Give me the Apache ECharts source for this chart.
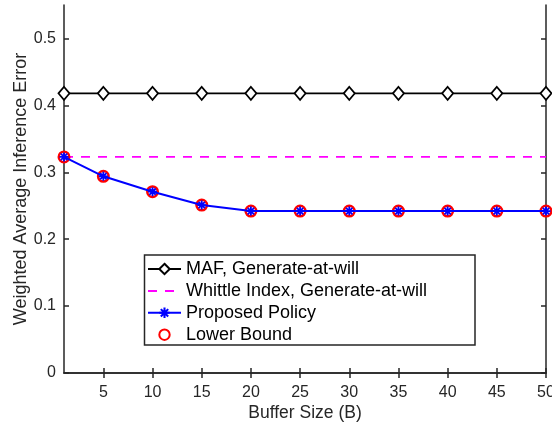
<!DOCTYPE html>
<html><head><meta charset="utf-8">
<script src="https://cdn.jsdelivr.net/npm/echarts@6/dist/echarts.min.js"></script>
<style>html,body{margin:0;padding:0;background:#fff}#c{width:552px;height:427px}</style>
</head><body><div id="c"></div>
<script>
const bufferSizes = [1, 5, 10, 15, 20, 25, 30, 35, 40, 45, 50];
const mafValues = [0.418, 0.418, 0.418, 0.418, 0.418, 0.418, 0.418, 0.418, 0.418, 0.418, 0.418];
const whittleValues = [0.323, 0.323, 0.323, 0.323, 0.323, 0.323, 0.323, 0.323, 0.323, 0.323, 0.323];
const proposedValues = [0.323, 0.294, 0.271, 0.251, 0.242, 0.242, 0.242, 0.242, 0.242, 0.242, 0.242];
const lowerBoundValues = [0.323, 0.294, 0.271, 0.251, 0.242, 0.242, 0.242, 0.242, 0.242, 0.242, 0.242];
const xTicks = [5, 10, 15, 20, 25, 30, 35, 40, 45, 50];
const yTicks = [0, 0.1, 0.2, 0.3, 0.4, 0.5];
const seriesNames = ['MAF, Generate-at-will', 'Whittle Index, Generate-at-will', 'Proposed Policy', 'Lower Bound'];

const pair = (xs, ys) => xs.map((x, i) => [x, ys[i]]);
const FONT = 'Liberation Sans';
const TXT = '#262626';
const asterisk = 'path://M-1,-5L1,-5L1,5L-1,5Z M-5,-1L5,-1L5,1L-5,1Z M-4.24,-2.83L-2.83,-4.24L4.24,2.83L2.83,4.24Z M2.83,-4.24L4.24,-2.83L-2.83,4.24L-4.24,2.83Z';

const axisCommon = {
  axisLine: {show: true, lineStyle: {color: TXT, width: 1.5}},
  axisTick: {show: true, inside: true, length: 5, lineStyle: {color: TXT, width: 1.5}},
  splitLine: {show: false}
};

const chart = echarts.init(document.getElementById('c'), null, {renderer: 'canvas'});
chart.setOption({
  animation: false,
  backgroundColor: '#fff',
  grid: {left: 64, right: 6, top: 5, bottom: 54, containLabel: false, outerBoundsMode: 'none'},
  xAxis: [
    Object.assign({}, axisCommon, {
      type: 'value', min: 1, max: 50, position: 'bottom',
      name: 'Buffer Size (B)', nameLocation: 'middle', nameGap: 31, nameMoveOverlap: false,
      nameTextStyle: {fontFamily: FONT, fontSize: 17.5, color: TXT},
      axisTick: Object.assign({}, axisCommon.axisTick, {customValues: xTicks}),
      axisLabel: {customValues: xTicks, fontFamily: FONT, fontSize: 16, color: TXT, margin: 12, hideOverlap: false}
    }),
    Object.assign({}, axisCommon, {
      type: 'value', min: 1, max: 50, position: 'top',
      axisTick: Object.assign({}, axisCommon.axisTick, {customValues: xTicks}),
      axisLabel: {show: false}
    })
  ],
  yAxis: [
    Object.assign({}, axisCommon, {
      type: 'value', min: 0, max: 0.55, position: 'left',
      name: 'Weighted Average Inference Error', nameLocation: 'middle', nameGap: 34, nameMoveOverlap: false,
      nameTextStyle: {fontFamily: FONT, fontSize: 18, color: TXT},
      axisTick: Object.assign({}, axisCommon.axisTick, {customValues: yTicks}),
      axisLabel: {customValues: yTicks, fontFamily: FONT, fontSize: 16, color: TXT, margin: 8,
        formatter: v => String(+v.toFixed(2))}
    }),
    Object.assign({}, axisCommon, {
      type: 'value', min: 0, max: 0.55, position: 'right',
      axisTick: Object.assign({}, axisCommon.axisTick, {customValues: yTicks}),
      axisLabel: {show: false}
    })
  ],
  legend: {
    orient: 'vertical', left: 147, top: 260, z: 10,
    padding: 0, itemGap: 3.9, itemWidth: 33, itemHeight: 13,
    textStyle: {fontFamily: FONT, fontSize: 18, color: '#000'},
    data: [
      {name: seriesNames[0]},
      {name: seriesNames[1], itemStyle: {opacity: 0}},
      {name: seriesNames[2]},
      {name: seriesNames[3]}
    ]
  },
  graphic: [{
    type: 'rect', z: 9, shape: {x: 144.5, y: 255, width: 330.5, height: 90},
    style: {fill: '#fff', stroke: TXT, lineWidth: 1.5}
  }],
  series: [
    {
      name: seriesNames[0], type: 'line', data: pair(bufferSizes, mafValues), z: 3,
      symbol: 'diamond', symbolSize: [11, 13], showSymbol: true,
      lineStyle: {color: '#000', width: 1.8},
      itemStyle: {color: '#fff', borderColor: '#000', borderWidth: 1.8}
    },
    {
      name: seriesNames[1], type: 'line', data: pair(bufferSizes, whittleValues), z: 2,
      showSymbol: false, symbol: 'none',
      lineStyle: {color: '#ff00ff', width: 1.6, type: [9, 8]},
      itemStyle: {color: '#ff00ff'}
    },
    {
      name: seriesNames[2], type: 'line', data: pair(bufferSizes, proposedValues), z: 4,
      symbol: asterisk, symbolSize: 9, showSymbol: true,
      lineStyle: {color: '#0000ff', width: 2},
      itemStyle: {color: '#0000ff'}
    },
    {
      name: seriesNames[3], type: 'line', data: pair(bufferSizes, lowerBoundValues), z: 3,
      symbol: 'circle', symbolSize: 10.5, showSymbol: true,
      lineStyle: {width: 0, opacity: 0},
      itemStyle: {color: 'rgba(255,0,0,0)', borderColor: '#ff0000', borderWidth: 2.5}
    }
  ]
});
</script></body></html>
